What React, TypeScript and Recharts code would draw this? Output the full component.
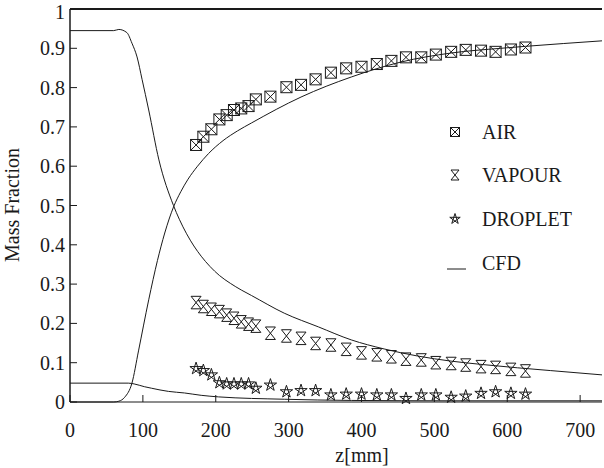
import {
  ComposedChart,
  Line,
  Scatter,
  XAxis,
  YAxis,
  ReferenceLine,
} from "recharts";

// Axial profiles of mass fraction: measurements (markers) vs CFD (lines).

const FONT = '"Liberation Serif", "Times New Roman", serif';
const W = 604;
const H = 468;
const PLOT_LEFT = 70;
const PLOT_TOP = 9;
const PLOT_BOTTOM = 402;

const X_TICKS = [0, 100, 200, 300, 400, 500, 600, 700];
const Y_TICKS = [0, 0.1, 0.2, 0.3, 0.4, 0.5, 0.6, 0.7, 0.8, 0.9, 1];

// measurement stations, z [mm]
const Z_EXP = [173, 183, 194, 205, 215, 225, 235, 245, 255, 275, 297, 317, 337, 358, 379, 400, 421, 441, 461, 482, 502, 523, 543, 564, 584, 605, 625];
const AIR_EXP = [0.654, 0.675, 0.694, 0.719, 0.73, 0.743, 0.747, 0.753, 0.77, 0.777, 0.801, 0.807, 0.821, 0.838, 0.849, 0.853, 0.86, 0.868, 0.877, 0.877, 0.884, 0.891, 0.896, 0.894, 0.891, 0.897, 0.902];
const VAPOUR_EXP = [0.253, 0.243, 0.236, 0.23, 0.221, 0.213, 0.204, 0.198, 0.193, 0.175, 0.168, 0.162, 0.149, 0.145, 0.134, 0.125, 0.12, 0.115, 0.109, 0.107, 0.1, 0.098, 0.094, 0.09, 0.088, 0.083, 0.079];
const DROPLET_EXP = [0.085, 0.08, 0.069, 0.049, 0.046, 0.046, 0.046, 0.046, 0.035, 0.043, 0.026, 0.029, 0.029, 0.018, 0.02, 0.02, 0.018, 0.018, 0.009, 0.018, 0.018, 0.012, 0.015, 0.022, 0.026, 0.022, 0.02];

// CFD profiles
const AIR_CFD_Z = [0, 60, 67, 75, 85, 94, 108, 120, 130, 142, 152, 162, 175, 190, 210, 230, 249, 317, 386, 454, 523, 591, 625, 730];
const AIR_CFD = [0, 0, 0.002, 0.012, 0.048, 0.13, 0.26, 0.36, 0.43, 0.496, 0.535, 0.567, 0.6, 0.632, 0.665, 0.69, 0.71, 0.776, 0.827, 0.865, 0.888, 0.9, 0.905, 0.919];
const VAPOUR_CFD_Z = [0, 60, 67, 78, 85, 92, 99, 108, 122, 142, 150, 160, 170, 180, 192, 205, 220, 235, 249, 294, 341, 386, 431, 477, 523, 568, 614, 659, 730];
const VAPOUR_CFD = [0.945, 0.945, 0.948, 0.94, 0.913, 0.878, 0.82, 0.743, 0.616, 0.5, 0.465, 0.428, 0.397, 0.371, 0.345, 0.322, 0.302, 0.285, 0.271, 0.226, 0.191, 0.158, 0.135, 0.117, 0.104, 0.095, 0.087, 0.08, 0.069];
const DROPLET_CFD_Z = [0, 80, 88, 102, 112, 135, 157, 180, 204, 294, 386, 523, 730];
const DROPLET_CFD = [0.048, 0.048, 0.046, 0.039, 0.035, 0.027, 0.023, 0.017, 0.013, 0.007, 0.004, 0.003, 0.003];

const rows = (zs: number[], vs: number[]) => zs.map((z, i) => ({ z, value: vs[i] }));

const airExp = rows(Z_EXP, AIR_EXP);
const vapourExp = rows(Z_EXP, VAPOUR_EXP);
const dropletExp = rows(Z_EXP, DROPLET_EXP);
const airCfd = rows(AIR_CFD_Z, AIR_CFD);
const vapourCfd = rows(VAPOUR_CFD_Z, VAPOUR_CFD);
const dropletCfd = rows(DROPLET_CFD_Z, DROPLET_CFD);

const INK = "#1a1a1a";

function BoxX({ cx, cy, s = 5.5 }: { cx: number; cy: number; s?: number }) {
  return (
    <g stroke={INK} strokeWidth={1} fill="none">
      <rect x={cx - s} y={cy - s} width={2 * s} height={2 * s} />
      <line x1={cx - s} y1={cy - s} x2={cx + s} y2={cy + s} />
      <line x1={cx - s} y1={cy + s} x2={cx + s} y2={cy - s} />
    </g>
  );
}

function Hourglass({ cx, cy, s = 5 }: { cx: number; cy: number; s?: number }) {
  const h = s * 1.25;
  return (
    <path
      d={`M${cx - s},${cy - h} L${cx + s},${cy - h} L${cx - s},${cy + h} L${cx + s},${cy + h} Z`}
      stroke={INK}
      strokeWidth={1}
      fill="none"
    />
  );
}

function Star({ cx, cy, r = 6.5 }: { cx: number; cy: number; r?: number }) {
  const p = [0, 1, 2, 3, 4].map((k) => {
    const a = -Math.PI / 2 + (k * 2 * Math.PI) / 5;
    return [cx + r * Math.cos(a), cy + r * Math.sin(a)];
  });
  const order = [0, 2, 4, 1, 3];
  const d = order.map((k, i) => `${i ? "L" : "M"}${p[k][0]},${p[k][1]}`).join(" ") + " Z";
  return <path d={d} stroke={INK} strokeWidth={1} fill="none" />;
}

function YTick({ y, payload }: any) {
  // the top label sits a little low so it stays inside the frame
  const ty = payload.value === 1 ? y + 3 : y;
  return (
    <g>
      <line x1={PLOT_LEFT} x2={PLOT_LEFT + 7} y1={y} y2={y} stroke={INK} />
      <text x={PLOT_LEFT - 5} y={ty} dy="0.35em" textAnchor="end" fontFamily={FONT} fontSize={20} fill={INK}>
        {String(payload.value)}
      </text>
    </g>
  );
}

function XTick({ x, payload }: any) {
  return (
    <g>
      <line x1={x} x2={x} y1={PLOT_BOTTOM} y2={PLOT_BOTTOM - 7} stroke={INK} />
      <text x={x} y={437} textAnchor="middle" fontFamily={FONT} fontSize={20} fill={INK}>
        {String(payload.value)}
      </text>
    </g>
  );
}

const LEGEND = [
  { label: "AIR", y: 132, kind: "air" },
  { label: "VAPOUR", y: 175, kind: "vapour" },
  { label: "DROPLET", y: 219, kind: "droplet" },
  { label: "CFD", y: 263, kind: "cfd" },
];

export default function App() {
  return (
    <div style={{ position: "absolute", left: 0, top: 0, width: W, height: H, background: "#fff" }}>
      <ComposedChart width={W} height={H} margin={{ top: PLOT_TOP, right: 2, left: 0, bottom: 0 }}>
        <XAxis
          type="number"
          dataKey="z"
          domain={[0, 730]}
          ticks={X_TICKS}
          height={H - PLOT_BOTTOM}
          axisLine={{ stroke: INK, strokeWidth: 1 }}
          tickLine={false}
          tick={<XTick />}
          allowDataOverflow
        />
        <YAxis
          type="number"
          domain={[0, 1]}
          ticks={Y_TICKS}
          width={PLOT_LEFT}
          axisLine={{ stroke: INK, strokeWidth: 1.5 }}
          tickLine={false}
          tick={<YTick />}
        />
        <ReferenceLine y={1} stroke={INK} strokeWidth={2} />
        <Line data={airCfd} dataKey="value" type="monotone" stroke={INK} strokeWidth={1} dot={false} isAnimationActive={false} />
        <Line data={vapourCfd} dataKey="value" type="monotone" stroke={INK} strokeWidth={1} dot={false} isAnimationActive={false} />
        <Line data={dropletCfd} dataKey="value" type="monotone" stroke={INK} strokeWidth={1} dot={false} isAnimationActive={false} />
        <Scatter data={airExp} dataKey="value" isAnimationActive={false} shape={(p: any) => <BoxX cx={p.cx} cy={p.cy} />} />
        <Scatter data={vapourExp} dataKey="value" isAnimationActive={false} shape={(p: any) => <Hourglass cx={p.cx} cy={p.cy} />} />
        <Scatter data={dropletExp} dataKey="value" isAnimationActive={false} shape={(p: any) => <Star cx={p.cx} cy={p.cy} />} />
      </ComposedChart>
      <svg width={W} height={H} style={{ position: "absolute", left: 0, top: 0, pointerEvents: "none" }}>
        <text x={19} y={205} transform="rotate(-90 19 205)" textAnchor="middle" fontFamily={FONT} fontSize={20} fill={INK}>
          Mass Fraction
        </text>
        <text x={362} y={462} textAnchor="middle" fontFamily={FONT} fontSize={20} fill={INK}>
          z[mm]
        </text>
        {LEGEND.map((item) => (
          <g key={item.label}>
            {item.kind === "air" && <BoxX cx={455} cy={item.y} s={4.5} />}
            {item.kind === "vapour" && <Hourglass cx={455} cy={item.y} s={4} />}
            {item.kind === "droplet" && <Star cx={455} cy={item.y} r={5.5} />}
            {item.kind === "cfd" && <line x1={447} x2={466} y1={item.y + 6} y2={item.y + 6} stroke={INK} />}
            <text x={482} y={item.y} dy="0.35em" fontFamily={FONT} fontSize={20} fill={INK}>
              {item.label}
            </text>
          </g>
        ))}
      </svg>
    </div>
  );
}
